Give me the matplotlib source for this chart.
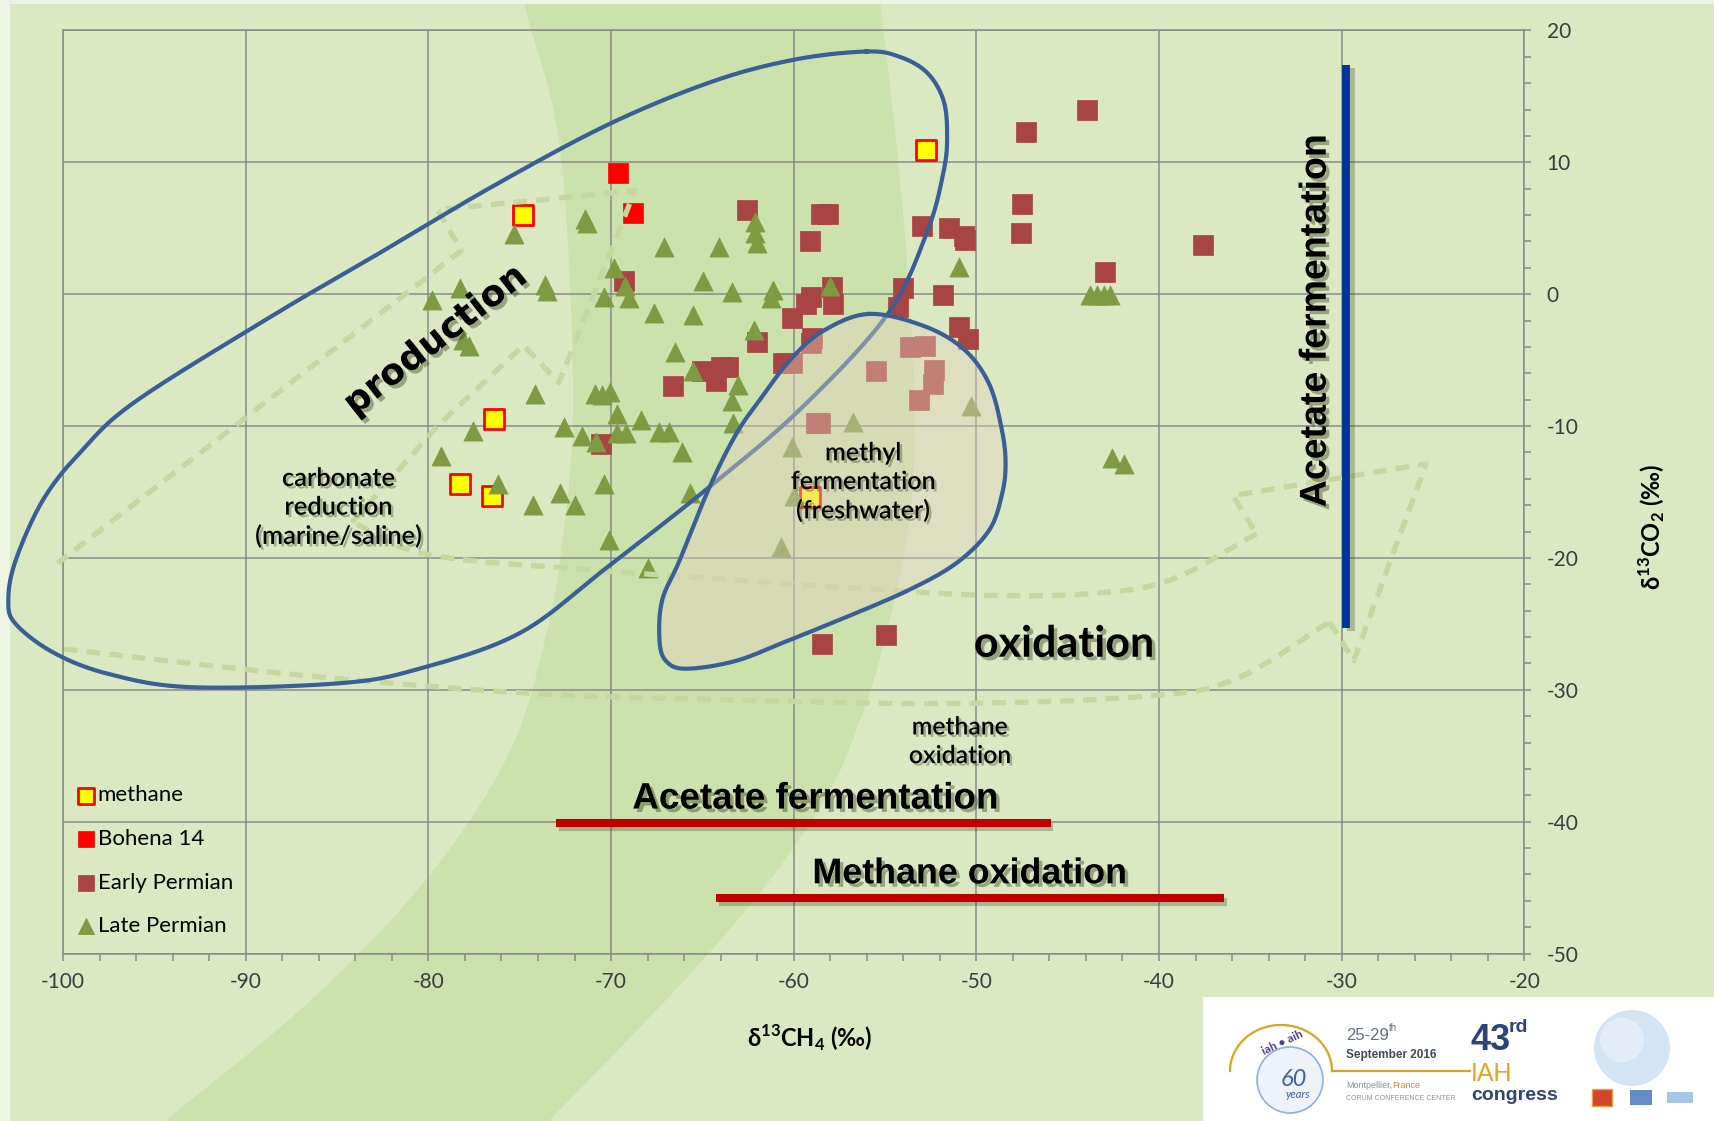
import numpy as np
import matplotlib.pyplot as plt
from matplotlib.patches import Polygon, Rectangle, Circle
from matplotlib.ticker import MultipleLocator
import matplotlib.patheffects as pe

plt.rcParams['font.family'] = ['Lato', 'DejaVu Sans']
plt.rcParams['mathtext.fontset'] = 'custom'
plt.rcParams['mathtext.rm'] = 'Lato'
plt.rcParams['mathtext.bf'] = 'Lato:bold'
plt.rcParams['axes.unicode_minus'] = False

# d13C of CH4 and CO2 (permil) per sample group
methane_ch4 = [-74.8, -52.75, -76.4, -78.25, -76.5, -59.1]
methane_co2 = [6.0, 10.95, -9.5, -14.4, -15.3, -15.35]

bohena_ch4 = [-69.6, -68.8]
bohena_co2 = [9.2, 6.15]

early_ch4 = [-43.95, -47.3, -47.5, -47.55, -37.6, -42.95, -52.95, -51.5, -50.7, -50.6,
             -54.0, -51.8, -54.3, -50.95, -50.45, -53.65, -52.8, -55.5, -52.3, -52.4,
             -53.15, -58.8, -58.55, -58.45, -54.95, -62.55, -58.5, -58.1, -59.1, -57.9,
             -57.85, -59.05, -59.3, -60.1, -62.0, -59.0, -59.05, -60.6, -60.1, -65.0,
             -64.0, -63.6, -64.25, -66.6, -69.3, -70.55]
early_co2 = [13.95, 12.3, 6.85, 4.65, 3.75, 1.7, 5.15, 5.05, 4.4, 4.1,
             0.5, -0.1, -1.0, -2.5, -3.4, -4.0, -3.95, -5.8, -5.75, -6.8,
             -8.0, -9.8, -9.8, -26.5, -25.85, 6.35, 6.1, 6.1, 4.0, 0.55,
             -0.75, -0.25, -0.75, -1.8, -3.6, -3.35, -3.7, -5.2, -5.25, -5.85,
             -5.55, -5.55, -6.55, -7.0, 1.0, -11.35]

late_ch4 = [-75.3, -71.4, -71.3, -67.1, -64.1, -62.1, -62.1, -62.0, -69.85, -73.6,
            -73.5, -78.25, -79.8, -70.4, -69.25, -69.0, -64.95, -63.4, -61.15, -61.25,
            -67.65, -65.5, -62.2, -78.1, -77.8, -66.5, -65.5, -63.05, -63.4, -74.15,
            -70.9, -70.5, -70.05, -69.7, -68.35, -72.6, -77.55, -79.3, -76.2, -74.3,
            -72.8, -72.0, -71.6, -70.85, -69.7, -69.2, -67.4, -66.8, -66.1, -70.4,
            -70.1, -65.7, -63.35, -60.1, -60.7, -68.0, -60.0, -56.75, -50.3, -42.55,
            -41.9, -58.0, -50.95, -43.8, -43.4, -43.0, -42.7]
late_co2 = [4.55, 5.7, 5.4, 3.55, 3.6, 5.45, 4.65, 3.85, 1.95, 0.7,
            0.25, 0.5, -0.45, -0.25, 0.6, -0.3, 1.0, 0.2, 0.35, -0.3,
            -1.4, -1.55, -2.7, -3.5, -3.9, -4.35, -5.8, -6.85, -8.1, -7.6,
            -7.6, -7.65, -7.4, -9.05, -9.55, -10.05, -10.35, -12.3, -14.4, -15.95,
            -15.1, -15.95, -10.75, -11.2, -10.55, -10.55, -10.45, -10.45, -12.0, -14.4,
            -18.65, -15.05, -9.75, -11.6, -19.2, -20.75, -15.3, -9.7, -8.5, -12.4,
            -12.9, 0.6, 2.05, -0.1, -0.1, -0.1, -0.1]

# process field outlines (data units)
production_field = [(-56.0, 18.4), (-59.9, 17.8), (-64.4, 16.15), (-70.1, 12.9), (-76.45, 8.2),
                    (-82.45, 3.3), (-88.5, -1.6), (-96.0, -8.1), (-99.0, -11.9), (-101.1, -15.6),
                    (-102.6, -20.2), (-103.0, -23.2), (-102.6, -25.0), (-100.5, -27.2),
                    (-97.5, -28.8), (-93.0, -29.8), (-84.85, -29.5), (-80.5, -28.4), (-75.0, -25.7),
                    (-70.3, -20.8), (-64.6, -14.6), (-59.7, -8.8), (-54.9, -1.6), (-52.7, 4.7),
                    (-51.8, 9.25), (-51.6, 12.0), (-51.8, 14.7), (-52.7, 16.8), (-54.2, 18.0)]
methyl_field = [(-55.9, -1.5), (-52.9, -2.4), (-50.7, -4.15), (-49.3, -6.8), (-48.6, -10.3),
                (-48.4, -12.9), (-48.6, -15.2), (-49.3, -17.9), (-51.1, -20.4), (-53.8, -22.5),
                (-57.5, -24.7), (-60.2, -26.2), (-63.15, -27.8), (-65.9, -28.4), (-67.0, -27.8),
                (-67.35, -26.2), (-67.2, -23.2), (-66.25, -20.2), (-64.6, -14.6), (-63.15, -10.6),
                (-61.9, -8.1), (-60.2, -5.0), (-58.4, -2.8)]

# dashed process arrows
prod_arrow = [(-84.17, -17.29), (-79.5, -10.0), (-74.8, -3.87), (-72.85, -6.71), (-68.7, 7.85),
              (-79.5, 6.4), (-78.2, 3.3), (-100.3, -20.4)]
ox_outer = [(-99.95, -26.9), (-91.25, -28.27), (-83.93, -29.28), (-74.15, -30.29), (-65.16, -30.7),
            (-51.89, -31.04), (-41.27, -30.54), (-35.97, -29.28), (-30.67, -24.86)]
ox_head = [(-30.67, -24.86), (-29.34, -27.77), (-25.37, -12.86), (-35.97, -15.27), (-34.65, -18.17)]
ox_inner = [(-34.65, -18.17), (-39.43, -21.7), (-43.8, -22.71), (-49.28, -22.84), (-54.75, -22.46),
            (-60.23, -21.95), (-70.63, -20.95), (-80.0, -19.75), (-84.17, -17.29)]

W, H = 1715, 1121
# background band edges, figure pixels from top-left
band_left = [(523, 0), (560, 150), (573, 400), (560, 560), (540, 660), (515, 740), (470, 820),
             (400, 910), (300, 1010), (165, 1121)]
band_right = [(549, 1121), (680, 985), (770, 880), (830, 790), (860, 720), (885, 640), (908, 530),
              (915, 430), (910, 300), (897, 150), (880, 0)]


def smooth(pts, closed=False, n=24):
    p = np.asarray(pts, float)
    if closed:
        p = np.vstack([p[-1], p, p[0], p[1]])
    else:
        p = np.vstack([2 * p[0] - p[1], p, 2 * p[-1] - p[-2]])
    t = np.linspace(0, 1, n, endpoint=False)[:, None]
    out = []
    for i in range(1, len(p) - 2):
        p0, p1, p2, p3 = p[i - 1], p[i], p[i + 1], p[i + 2]
        out.append(0.5 * (2 * p1 + (p2 - p0) * t + (2 * p0 - 5 * p1 + 4 * p2 - p3) * t ** 2
                          + (3 * p1 - p0 - 3 * p2 + p3) * t ** 3))
    out.append(p[-2][None])
    return np.vstack(out)


def to_fig(pts):
    a = np.asarray(pts, float)
    return np.column_stack([a[:, 0] / W, 1 - a[:, 1] / H])


fig = plt.figure(figsize=(W / 100, H / 100), dpi=100, facecolor='#dbe9c3')

band = np.vstack([smooth(band_left), smooth(band_right)])
fig.patches.append(Polygon(to_fig(band), closed=True, transform=fig.transFigure,
                           facecolor='#cce2ac', edgecolor='none', zorder=-2))
fig.patches.append(Rectangle((0, 0), 10 / W, 1, transform=fig.transFigure,
                             facecolor='#edf4e4', edgecolor='none', zorder=-2))
fig.patches.append(Rectangle((0, 1 - 4 / H), 1, 4 / H, transform=fig.transFigure,
                             facecolor='#edf4e4', edgecolor='none', zorder=-2))

ax = fig.add_axes([63.1 / W, 1 - 953.6 / H, 1461.2 / W, 923.2 / H])
ax.set_facecolor('none')
ax.set_xlim(-100, -20)
ax.set_ylim(-50, 20)
ax.xaxis.set_major_locator(MultipleLocator(10))
ax.xaxis.set_minor_locator(MultipleLocator(2))
ax.yaxis.set_major_locator(MultipleLocator(10))
ax.yaxis.set_minor_locator(MultipleLocator(2))
ax.set_axisbelow(True)
ax.grid(True, which='major', color='#8a8a8a', lw=1.1)
for s in ax.spines.values():
    s.set_color('#8a8a8a')
    s.set_linewidth(1.1)
ax.yaxis.tick_right()
ax.tick_params(axis='both', which='both', direction='out', length=5, width=1.1,
               color='#8a8a8a', labelsize=15, labelcolor='#3c3c3c')
ax.tick_params(axis='x', pad=8)
ax.tick_params(axis='y', pad=11)

dash_kw = dict(color='#c4d8a0', lw=3.8, ls=(0, (2.6, 1.7)), solid_capstyle='butt',
               clip_on=False, zorder=4)
ax.plot(*zip(*prod_arrow), **dash_kw)
ax.plot(*smooth(ox_outer).T, **dash_kw)
ax.plot(*zip(*ox_head), **dash_kw)
ax.plot(*smooth(ox_inner).T, **dash_kw)

sq = 190
sc_m = ax.scatter(methane_ch4, methane_co2, s=sq, marker='s', facecolor='#ffff00',
                  edgecolor='#ff0000', linewidth=2, zorder=3, label='methane')
sc_b = ax.scatter(bohena_ch4, bohena_co2, s=sq, marker='s', facecolor='#ff0000',
                  edgecolor='#ff0000', linewidth=0.5, zorder=3, label='Bohena 14')
sc_e = ax.scatter(early_ch4, early_co2, s=sq, marker='s', facecolor='#a84443',
                  edgecolor='#a84443', linewidth=0.5, zorder=3, label='Early Permian')
sc_l = ax.scatter(late_ch4, late_co2, s=190, marker='^', facecolor='#7e9a43',
                  edgecolor='#7e9a43', linewidth=0.5, zorder=3, label='Late Permian')

prod_xy = smooth(production_field, closed=True)
ax.plot(prod_xy[:, 0], prod_xy[:, 1], color='#3a5f96', lw=3, clip_on=False, zorder=5)
meth_xy = smooth(methyl_field, closed=True)
ax.fill(meth_xy[:, 0], meth_xy[:, 1], facecolor='#e4d3c0', alpha=0.42, edgecolor='none', zorder=6)
ax.plot(meth_xy[:, 0], meth_xy[:, 1], color='#3a5f96', lw=3, zorder=7)

# process bars
shadow = [pe.SimpleLineShadow(offset=(2, -3), shadow_color='#404020', alpha=0.3), pe.Normal()]
ax.plot([-72.99, -45.93], [-40.08, -40.08], color='#c00000', lw=5.8, solid_capstyle='butt',
        zorder=8, path_effects=shadow)
ax.plot([-64.23, -36.42], [-45.76, -45.76], color='#c00000', lw=5.8, solid_capstyle='butt',
        zorder=8, path_effects=shadow)
ax.plot([-29.74, -29.74], [17.36, -25.33], color='#003399', lw=5.6, solid_capstyle='butt',
        zorder=8, path_effects=[pe.SimpleLineShadow(offset=(3, -2), shadow_color='#404020', alpha=0.3),
                                pe.Normal()])

big_sh = [pe.withSimplePatchShadow(offset=(2.5, -2.5), shadow_rgbFace='#2e3a18', alpha=0.4)]
small_sh = [pe.withSimplePatchShadow(offset=(1.8, -1.8), shadow_rgbFace='#2e3a18', alpha=0.35)]
arial = ['Liberation Sans', 'DejaVu Sans']

ax.text(-79.6, -3.5, 'production', rotation=38, rotation_mode='anchor', ha='center', va='center',
        fontsize=26, fontweight='bold', family='DejaVu Sans', zorder=9, path_effects=big_sh)
ax.text(-84.93, -16.17, 'carbonate\nreduction\n(marine/saline)', ha='center', va='center',
        fontsize=18.3, fontweight='semibold', linespacing=1.3, zorder=9, path_effects=small_sh)
ax.text(-56.2, -14.23, 'methyl\nfermentation\n(freshwater)', ha='center', va='center',
        fontsize=18, fontweight='semibold', linespacing=1.3, zorder=9, path_effects=small_sh)
ax.text(-45.2, -27.49, 'oxidation', ha='center', va='baseline', fontsize=31,
        fontweight='bold', zorder=9, path_effects=big_sh)
ax.text(-50.9, -33.9, 'methane\noxidation', ha='center', va='center', fontsize=17.8,
        fontweight='semibold', linespacing=1.3, zorder=9, path_effects=small_sh)
ax.text(-58.84, -39.0, 'Acetate fermentation', ha='center', va='baseline', fontsize=26.5,
        fontweight='bold', family=arial, zorder=9, path_effects=big_sh)
ax.text(-50.37, -44.67, 'Methane oxidation', ha='center', va='baseline', fontsize=25.8,
        fontweight='bold', family=arial, zorder=9, path_effects=big_sh)
ax.text(-31.42, -2.0, 'Acetate fermentation', rotation=90, ha='center', va='center',
        fontsize=27, fontweight='bold', family=arial, zorder=9, path_effects=big_sh)

ax.text(0.5108, -0.074, r'δ$^{\mathbf{13}}$CH$_{\mathbf{4}}$ (‰)', transform=ax.transAxes,
        ha='center', va='top', fontsize=17, fontweight='bold')
ax.text(1.0873, 0.462, r'δ$^{\mathbf{13}}$CO$_{\mathbf{2}}$ (‰)', transform=ax.transAxes,
        rotation=90, ha='center', va='center', fontsize=17, fontweight='bold')

ax.legend(handles=[sc_m, sc_b, sc_e, sc_l], loc='lower left', bbox_to_anchor=(0.0099, 0.019),
          frameon=False, fontsize=16, handletextpad=0.1, labelspacing=1.06, handlelength=0.8,
          borderaxespad=0, borderpad=0, markerscale=0.85)

# congress banner, bottom right
lg = fig.add_axes([1203 / W, 0, 512 / W, 124 / H])
lg.set_xlim(1203, 1715)
lg.set_ylim(1121, 997)
lg.axis('off')
lg.add_patch(Rectangle((1203, 997), 512, 124, facecolor='white', edgecolor='none'))
th = np.linspace(np.pi, 0, 60)
lg.plot(1281 + 51 * np.cos(th), 1071 - 46 * np.sin(th), color='#d9a520', lw=1.6)
lg.plot([1332, 1470], [1071, 1071], color='#d9a520', lw=1.6)
lg.add_patch(Circle((1290, 1080), 33, facecolor='#eef3fa', edgecolor='#8fb0da', lw=1.2))
lg.text(1282, 1043, 'iah • aih', ha='center', va='center', fontsize=8.5, color='#4a3c8c',
        rotation=25, fontweight='bold')
lg.text(1294, 1080, '60', ha='center', va='center', fontsize=17, color='#3d62a8', style='italic')
lg.text(1298, 1095, 'years', ha='center', va='center', fontsize=8, color='#3d62a8', style='italic')
nar = ['Liberation Sans Narrow', 'Liberation Sans', 'DejaVu Sans']
lg.text(1346, 1036, '25-29', ha='left', va='center', fontsize=12, color='#5e6e8e', family=nar)
lg.text(1389, 1028, 'th', ha='left', va='center', fontsize=7, color='#5e6e8e', family=nar)
lg.text(1346, 1055, 'September 2016', ha='left', va='center', fontsize=8.5, color='#404a5c',
        fontweight='bold', family=nar)
lg.text(1346, 1086, 'Montpellier,', ha='left', va='center', fontsize=6.5, color='#8593a6', family=nar)
lg.text(1392, 1086, 'France', ha='left', va='center', fontsize=6.5, color='#e07b39', family=nar)
lg.text(1346, 1099, 'CORUM CONFERENCE CENTER', ha='left', va='center', fontsize=5,
        color='#8593a6', family=nar)
lg.text(1471, 1041, '43', ha='left', va='center', fontsize=26, color='#2d4478',
        fontweight='bold', family=nar)
lg.text(1509, 1028, 'rd', ha='left', va='center', fontsize=14, color='#2d4478',
        fontweight='bold', family=nar)
lg.text(1471, 1074, 'IAH', ha='left', va='center', fontsize=18, color='#eaa126', family=nar)
lg.text(1471, 1096, 'congress', ha='left', va='center', fontsize=14, color='#2d4478',
        fontweight='bold', family=nar)
lg.add_patch(Circle((1632, 1048), 38, facecolor='#b8d3ec', edgecolor='none', alpha=0.6))
lg.add_patch(Circle((1622, 1040), 22, facecolor='#e8f1fa', edgecolor='none', alpha=0.8))
lg.add_patch(Rectangle((1592, 1089), 20, 17, facecolor='#d2452b', edgecolor='#e8a33a', lw=1))
lg.add_patch(Rectangle((1630, 1090), 22, 15, facecolor='#3b6fb5', edgecolor='none', alpha=0.8))
lg.add_patch(Rectangle((1667, 1092), 26, 11, facecolor='#8fb8e0', edgecolor='none', alpha=0.8))

fig.savefig('out.png', dpi=100, facecolor=fig.get_facecolor())
